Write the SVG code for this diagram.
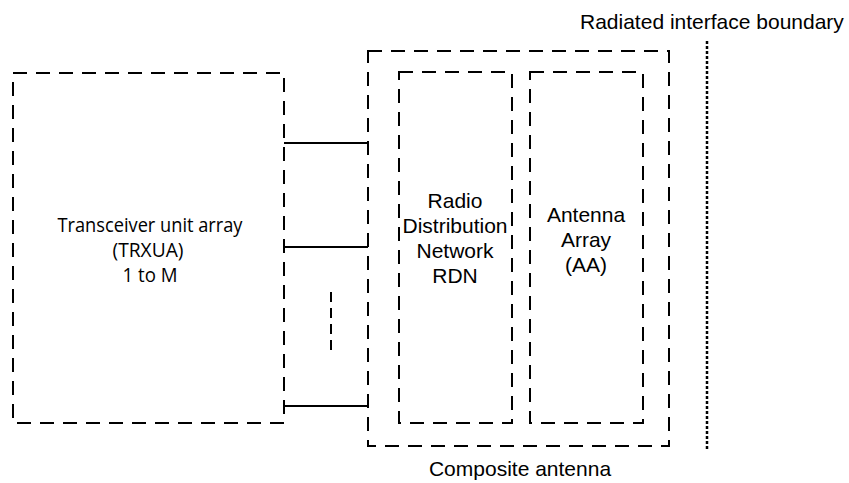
<svg xmlns="http://www.w3.org/2000/svg" width="849" height="483" viewBox="0 0 849 483">
<style>
.box{fill:none;stroke:#000;stroke-width:2;stroke-dasharray:14 9}
.conn{stroke:#000;stroke-width:2;fill:none}
.arial{font-family:"Liberation Sans",Arial,sans-serif;font-size:21px;fill:#000}
.cal{font-family:"Open Sans","Noto Sans",sans-serif;font-size:20px;fill:#000}
</style>
<rect width="849" height="483" fill="#fff"/>
<g id="trxua">
<rect class="box" x="13" y="73" width="271" height="350"/>
<text class="cal" text-anchor="middle" x="150" y="232" textLength="185" lengthAdjust="spacingAndGlyphs">Transceiver unit array</text>
<text class="cal" text-anchor="middle" x="148" y="257" textLength="71" lengthAdjust="spacingAndGlyphs">(TRXUA)</text>
<text class="cal" text-anchor="middle" x="150" y="282" textLength="55" lengthAdjust="spacingAndGlyphs">1 to M</text>
</g>
<g id="composite-antenna">
<rect class="box" x="368" y="51" width="301" height="395"/>
<text class="arial" text-anchor="middle" x="520" y="476">Composite antenna</text>
</g>
<g id="rdn">
<rect class="box" x="399" y="72" width="113" height="351"/>
<text class="arial" text-anchor="middle" x="455" y="208">Radio</text>
<text class="arial" text-anchor="middle" x="455" y="233">Distribution</text>
<text class="arial" text-anchor="middle" x="455" y="258">Network</text>
<text class="arial" text-anchor="middle" x="455" y="283">RDN</text>
</g>
<g id="aa">
<rect class="box" x="530" y="72" width="113" height="351"/>
<text class="arial" text-anchor="middle" x="586" y="222">Antenna</text>
<text class="arial" text-anchor="middle" x="586" y="247">Array</text>
<text class="arial" text-anchor="middle" x="586" y="272">(AA)</text>
</g>
<g id="boundary">
<line x1="707" y1="41" x2="707" y2="451" stroke="#000" stroke-width="2.5" stroke-dasharray="3 2"/>
<text class="arial" x="580" y="29">Radiated interface boundary</text>
</g>
<g id="connectors">
<line class="conn" x1="284" y1="143" x2="368" y2="143"/>
<line class="conn" x1="284" y1="247" x2="368" y2="247"/>
<line class="conn" x1="284" y1="406" x2="368" y2="406"/>
<line x1="331" y1="292" x2="331" y2="350" stroke="#000" stroke-width="2" stroke-dasharray="10 6"/>
</g>
</svg>
